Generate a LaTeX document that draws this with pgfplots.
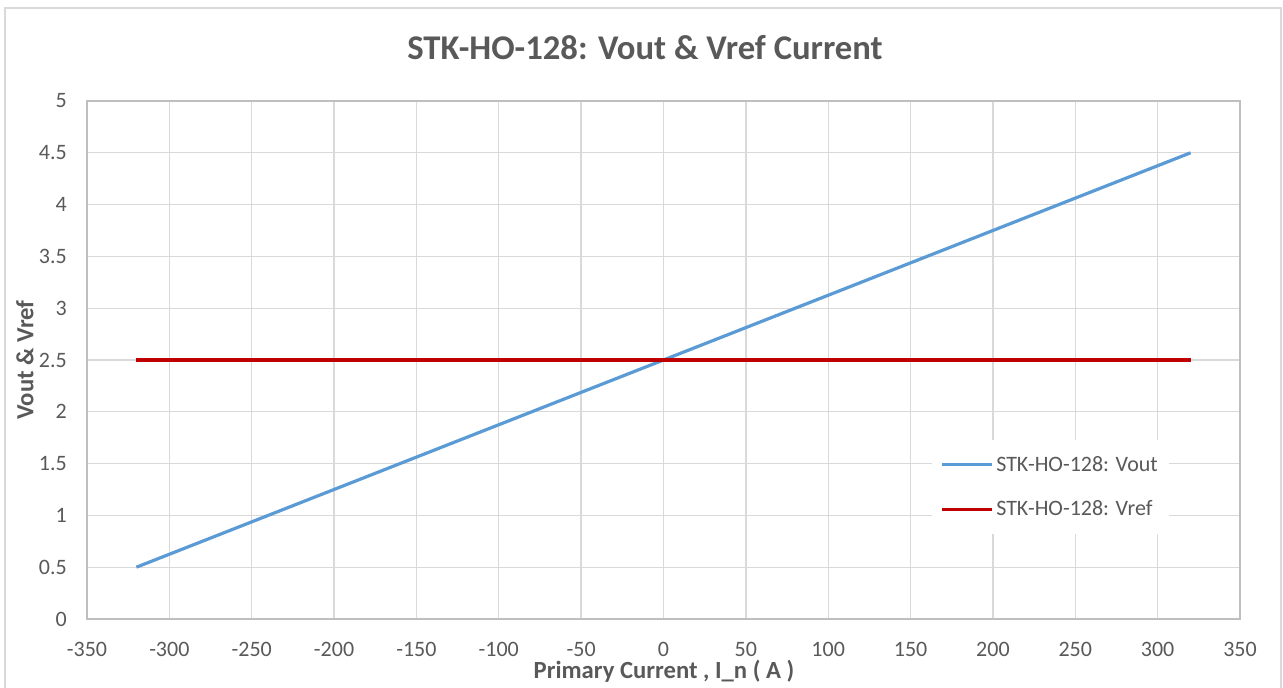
\documentclass[border=0pt]{standalone}
\usepackage{pgfplots}
\pgfplotsset{compat=1.18}
\usepackage{fontspec}
\setmainfont{Carlito}
\definecolor{txt}{HTML}{595959}
\definecolor{grd}{HTML}{D9D9D9}
\definecolor{axl}{HTML}{BFBFBF}
\definecolor{vout}{HTML}{5B9BD5}
\definecolor{vref}{HTML}{C00000}
\begin{document}
\begin{tikzpicture}
\useasboundingbox (0pt,0pt) rectangle (962.25pt,516pt);
\draw[grd, line width=1.2pt] (3.75pt,-5pt) rectangle (960.75pt,510pt);
\begin{axis}[
  at={(65.25pt,51.75pt)}, anchor=south west,
  scale only axis, width=864.75pt, height=388.5pt,
  xmin=-350, xmax=350, ymin=0, ymax=5,
  xtick={-350,-300,...,350}, ytick={0,0.5,...,5},
  xticklabels={-350,-300,-250,-200,-150,-100,-50,0,50,100,150,200,250,300,350},
  yticklabels={0,0.5,1,1.5,2,2.5,3,3.5,4,4.5,5},
  grid=major, major grid style={grd, line width=1pt},
  axis line style={axl, line width=1pt},
  tick style={draw=none},
  ticklabel style={font=\fontsize{16.5}{18}\selectfont, text=txt},
  xticklabel style={inner sep=0pt, yshift=-17pt},
  yticklabel style={inner sep=0pt, xshift=-15pt},
  legend style={at={(0.733,0.3456)}, anchor=north west, draw=none, fill=white,
    font=\fontsize{16.5}{18}\selectfont, text=txt, row sep=16.5pt, inner xsep=6pt, inner ysep=10pt},
  legend cell align=left,
  legend image code/.code={\draw[#1] (0pt,0pt) -- (37.5pt,0pt);},
]
\addplot[vout, line width=2.4pt] coordinates {(-320,0.5) (320,4.5)};
\addlegendentry{STK-HO-128: Vout}
\addplot[vref, line width=2.4pt] coordinates {(-320,2.5) (320,2.5)};
\addlegendentry{STK-HO-128: Vref}
\end{axis}
\node[anchor=base, text=txt, font=\fontsize{26}{29}\bfseries] at (483.75pt,471pt) {STK-HO-128: Vout \& Vref Current};
\node[anchor=base, inner sep=0pt, text=txt, font=\fontsize{18.5}{20}\bfseries] at (498pt,7pt) {Primary Current , I\_n ( A )};
\node[rotate=90, text=txt, font=\fontsize{18.5}{20}\bfseries] at (18.75pt,246pt) {Vout \& Vref};
\end{tikzpicture}
\end{document}
